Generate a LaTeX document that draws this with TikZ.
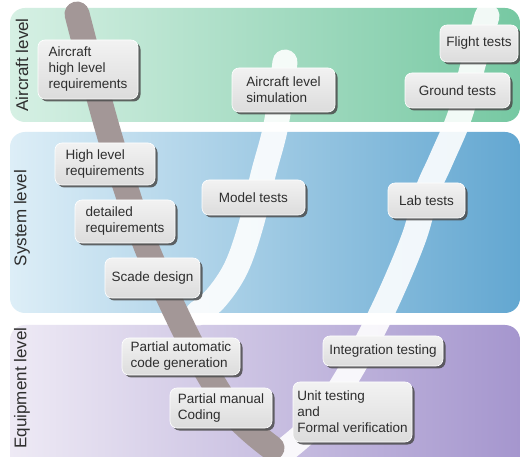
\documentclass[tikz,border=0pt]{standalone}
\usepackage{fontspec}
\setmainfont{Liberation Sans}
\usetikzlibrary{shadows}
\definecolor{gL}{HTML}{D6F0E4}
\definecolor{gR}{HTML}{76C8A2}
\definecolor{bL}{HTML}{DDEEF7}
\definecolor{bR}{HTML}{63A7D1}
\definecolor{pL}{HTML}{EEEAF5}
\definecolor{pR}{HTML}{A596CE}
\definecolor{legc}{HTML}{A39797}
\definecolor{txt}{HTML}{2E2E2E}
\definecolor{boxtop}{HTML}{F2F2F2}
\definecolor{boxbot}{HTML}{DCDCDC}
\tikzset{
  stepbox/.style={rounded corners=7pt, top color=boxtop, bottom color=boxbot,
    draw=white, line width=0.6pt, align=left, text=txt, inner sep=0pt,
    font=\fontsize{13.5}{16}\selectfont,
    drop shadow={shadow xshift=2.5pt, shadow yshift=-2.5pt, fill=black!70, opacity=0.85}},
  band/.style={rounded corners=15pt},
  levellabel/.style={rotate=90, text=txt, font=\fontsize{17}{20}\selectfont},
  leg/.style={line width=25pt, line cap=round}
}
\begin{document}
\begin{tikzpicture}[x=1pt,y=-1pt]
\useasboundingbox (0,0) rectangle (520,457);
\fill[white] (0,0) rectangle (520,457);
% bands
\shade[band, left color=gL, right color=gR] (10,8) rectangle (520,122);
\shade[band, left color=bL, right color=bR] (10,132) rectangle (520,313);
\shade[band, left color=pL, right color=pR] (10,325) rectangle (520,475);
% legs of the V
\draw[leg, white, opacity=0.9] plot[smooth, tension=0.6] coordinates {(285,62) (276,125) (263,175) (251,225) (236,268) (216,298) (198,313)};
\draw[leg, white, opacity=0.9] plot[smooth, tension=0.6] coordinates {(487,16) (473,65) (460,115) (441,160) (427,192) (413,240) (383,310) (350,372) (318,420) (285,450)};
\draw[leg, legc] plot[smooth, tension=0.6] coordinates {(77,14) (105,120) (128,195) (148,251) (175,311) (200,360) (235,415) (272,448)};
% boxes
\node[stepbox, minimum width=100pt, minimum height=59pt] (ahl) at (88,69.5) {Aircraft\\high level\\requirements};
\node[stepbox, minimum width=103pt, minimum height=44pt] (asim) at (283.5,90) {Aircraft level\\simulation};
\node[stepbox, minimum width=78pt, minimum height=37pt] (flight) at (479,43.5) {Flight tests};
\node[stepbox, minimum width=105pt, minimum height=35pt] (ground) at (457.5,90.5) {Ground tests};
\node[stepbox, minimum width=100pt, minimum height=42pt] (hlr) at (105,164) {High level\\requirements};
\node[stepbox, minimum width=100pt, minimum height=43pt] (det) at (125,221.5) {detailed\\requirements};
\node[stepbox, minimum width=103pt, minimum height=35pt] (model) at (253.5,197.5) {Model tests};
\node[stepbox, minimum width=77pt, minimum height=35pt] (lab) at (426.5,200.5) {Lab tests};
\node[stepbox, minimum width=95pt, minimum height=40pt] (scade) at (152.5,278) {Scade design};
\node[stepbox, minimum width=118pt, minimum height=37pt] (pac) at (181,356.5) {Partial automatic\\code generation};
\node[stepbox, minimum width=102pt, minimum height=40pt] (pmc) at (221,408) {Partial manual\\Coding};
\node[stepbox, minimum width=120pt, minimum height=30pt] (integ) at (383,351) {Integration testing};
\node[stepbox, minimum width=119pt, minimum height=60pt] (unit) at (352.5,412) {Unit testing\\and\\Formal verification};
% level labels
\node[levellabel] (lac) at (22,65) {Aircraft level};
\node[levellabel] (lsys) at (22,218) {System level};
\node[levellabel] (leq) at (22,388) {Equipment level};
\end{tikzpicture}
\end{document}
